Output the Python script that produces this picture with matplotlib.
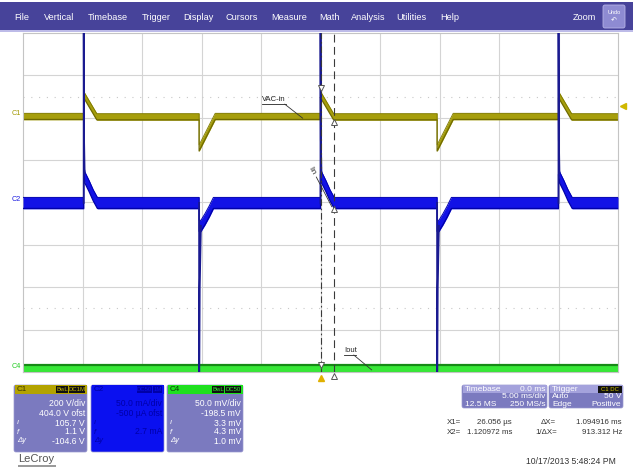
import numpy as np
import matplotlib
matplotlib.use('Agg')
import matplotlib.pyplot as plt
from matplotlib.patches import Rectangle, FancyBboxPatch

plt.rcParams['font.family'] = ['Liberation Sans', 'DejaVu Sans']

W, H = 633, 469
# screen area in pixels (10 x 8 divisions)
x_l, x_r, y_t, y_b = 23, 618, 33, 372

# timebase: 5 ms/div, trigger in the middle
t_span = [-25, 25]

# event times (ms)
t_pos = [-19.9, 0.0, 20.0]     # VAC-in steps up, Iin spikes up
t_neg = [-10.2, 9.8]           # VAC-in steps down, Iin spikes down

# C1 VAC-in: 200 V/div, 404 V offset
c1_scale, c1_ofst = 200.0, 404.0
vac_up_dt = [0.0, 0.0, 1.1]
vac_up_v = [3.0, 105.7, 1.1]
vac_dn_dt = [0.0, 0.0, 1.35]
vac_dn_v = [1.1, -146.0, 3.0]

# C2 Iin: 50 mA/div
c2_scale, c2_ofst = 50.0, -0.5
iin_up_dt = [0.0, 0.0, 0.1, 0.45, 0.8, 1.15]
iin_up_v = [0.0, 40.0, 30.0, 20.0, 9.0, 0.0]
iin_dn_dt = [0.0, 0.0, 0.15, 0.5, 0.85, 1.2]
iin_dn_v = [0.0, -27.0, -27.0, -19.0, -10.0, 0.0]
spk_up_dt = [0.0, 0.0, 0.03, 0.08]
spk_up_v = [0.0, 240.0, 75.0, 35.0]
spk_dn_dt = [0.0, 0.0, 0.05, 0.15]
spk_dn_v = [0.0, -240.0, -100.0, -27.0]

# C4 Iout: 50 mV/div, -198.5 mV offset
c4_scale, c4_ofst = 50.0, -198.5
iout_mv = 4.0

cursor_x1 = 0.026056
cursor_x2 = 1.120972
trig_level = 50.0


def build(up_dt, up_v, dn_dt, dn_v):
    ev = sorted([(t, up_dt, up_v) for t in t_pos] + [(t, dn_dt, dn_v) for t in t_neg])
    ts, vs = [t_span[0]], [ev[0][2][0]]
    for t0, dts, v in ev:
        ts += [t0 + d for d in dts]
        vs += list(v)
    ts.append(t_span[1])
    vs.append(vs[-1])
    return np.array(ts), np.array(vs)


def div(v, scale, ofst):
    return (np.asarray(v) + ofst) / scale


def px(lw):
    return lw * 72 / 100.


fig = plt.figure(figsize=(W / 100, H / 100), dpi=100)
fig.patch.set_facecolor('white')
bg = fig.add_axes([0, 0, 1, 1])
bg.set_xlim(0, W)
bg.set_ylim(H, 0)
bg.axis('off')

# menu bar
bg.add_patch(Rectangle((0, 2), W, 28, color='#47439a', lw=0))
bg.add_patch(Rectangle((0, 30), W, 2.5, color='#bdbbe8', lw=0))
menu = ['File', 'Vertical', 'Timebase', 'Trigger', 'Display', 'Cursors', 'Measure',
        'Math', 'Analysis', 'Utilities', 'Help']
menu_x = [14, 44, 88, 142, 183, 225, 271, 319, 351, 396, 440]
for m, mx in zip(menu, menu_x):
    bg.text(mx, 17, m, color='white', fontsize=6.6, va='center', ha='left')
bg.text(573, 17, 'Zoom', color='white', fontsize=6.6, va='center', ha='left')
bg.add_patch(FancyBboxPatch((603, 5), 22, 23, boxstyle='round,pad=0,rounding_size=2',
                            fc='#8e8bd2', ec='#b5b3e6', lw=0.6))
bg.text(614, 12, 'Undo', color='white', fontsize=4, ha='center', va='center')
bg.text(614, 21, '\u21b6', color='white', fontsize=5, ha='center', va='center')

# waveform screen
ax = fig.add_axes([x_l / W, 1 - y_b / H, (x_r - x_l) / W, (y_b - y_t) / H])
ax.set_xlim(*t_span)
ax.set_ylim(-4, 4)
ax.set_xticks([])
ax.set_yticks([])
for s in ax.spines.values():
    s.set_color('#c4c4c4')
    s.set_linewidth(0.8)
for gx in np.arange(-20, 25, 5):
    ax.axvline(gx, color='#d4d4d4', lw=0.8, zorder=0)
for gy in range(-3, 4):
    ax.axhline(gy, color='#d4d4d4', lw=0.8, zorder=0)
for gy in [2.5, -2.5]:
    ax.axhline(gy, color='#c8c8c8', lw=0.8, ls=(0, (1, 6)), zorder=0)

# C1 as a band
tv, vv = build(vac_up_dt, vac_up_v, vac_dn_dt, vac_dn_v)
yv = div(vv, c1_scale, c1_ofst)
ax.fill_between(tv, yv - 0.085, yv + 0.085, color='#a69e0c', lw=0, zorder=2)
ax.plot(tv, yv - 0.075, color='#6f6a00', lw=0.9, zorder=2)
ax.plot(tv, yv + 0.07, color='#7d7800', lw=0.6, zorder=2)

# C4
y4 = div(iout_mv, c4_scale, c4_ofst)
ax.fill_between(t_span, y4 - 0.12, y4 + 0.08, color='#37e837', lw=0, zorder=2)
ax.axhline(y4 + 0.06, color='#168a16', lw=1.6, zorder=2)
ax.axhline(y4 - 0.11, color='#1e9e1e', lw=0.8, zorder=2)

# C2 as a band plus thin spikes
ti, vi = build(iin_up_dt, iin_up_v, iin_dn_dt, iin_dn_v)
yi = div(vi, c2_scale, c2_ofst)
ax.fill_between(ti, yi - 0.14, yi + 0.14, color='#1212e6', lw=0, zorder=3)
ax.plot(ti, yi - 0.13, color='#0000a8', lw=0.9, zorder=3)
ax.plot(ti, yi + 0.13, color='#0000b0', lw=0.7, zorder=3)
for t0 in t_pos:
    ax.plot(t0 + np.array(spk_up_dt), div(spk_up_v, c2_scale, c2_ofst), color='#1a1a90',
            lw=px(1.8), zorder=4)
for t0 in t_neg:
    ax.plot(t0 + np.array(spk_dn_dt), div(spk_dn_v, c2_scale, c2_ofst), color='#1a1a90',
            lw=px(1.8), zorder=4)

# cursors
ax.axvline(cursor_x1, color='#3a3a3a', lw=0.8, ls=(0, (6, 2.5, 1.5, 2.5)), zorder=5)
ax.axvline(cursor_x2, color='#3a3a3a', lw=0.8, ls=(0, (7, 4)), zorder=5)
ax.plot([cursor_x1, cursor_x1], [div(vac_up_v[1], c1_scale, c1_ofst) + 0.15,
                                 y4 + 0.05],
        ls='none', marker='v', ms=5, mfc='white', mec='#555555', mew=0.7, zorder=6)
ax.plot([cursor_x2, cursor_x2, cursor_x2], [div(vac_up_v[2], c1_scale, c1_ofst) - 0.12,
                                            div(0, c2_scale, c2_ofst) - 0.15, -4.1],
        ls='none', marker='^', ms=5, mfc='white', mec='#555555', mew=0.7, zorder=6,
        clip_on=False)

# labels on traces
ax.text(-4.9, 2.42, 'VAC-in', fontsize=5.5, color='#222222', va='center')
ax.plot([-4.9, -2.9], [2.32, 2.32], color='#222222', lw=0.6)
ax.plot([-3.0, -1.5], [2.32, 1.99], color='#333333', lw=0.6)
ax.text(-0.75, 0.75, 'Iin', fontsize=5.5, color='#222222', va='center', ha='center',
        rotation=-60)
ax.plot([-0.35, 0.95], [0.6, -0.1], color='#333333', lw=0.6, zorder=5)
ax.text(2.0, -3.5, 'Iout', fontsize=5.5, color='#222222', va='center')
ax.plot([2.0, 3.0], [-3.6, -3.6], color='#222222', lw=0.6)
ax.plot([2.8, 4.3], [-3.6, -3.95], color='#333333', lw=0.6)


def y_px(d):
    return (y_t + y_b) / 2 - d * (y_b - y_t) / 8


def x_px(t):
    return x_l + (t - t_span[0]) / (t_span[1] - t_span[0]) * (x_r - x_l)


# channel markers at left, trigger markers
bg.text(21, y_px(div(vac_up_v[0], c1_scale, c1_ofst)) - 3, 'C1', color='#a09800',
        fontsize=5.2, ha='right', va='center')
bg.text(21, y_px(div(0, c2_scale, c2_ofst)) - 3, 'C2', color='#1a1ae0',
        fontsize=5.2, ha='right', va='center')
bg.text(21, y_px(y4) - 1, 'C4', color='#22cc22',
        fontsize=5.2, ha='right', va='center')
bg.plot([623], [y_px(div(trig_level, c1_scale, c1_ofst))], marker='<', ms=5,
        color='#d0b800', ls='none')
bg.plot([x_px(0)], [378], marker='^', ms=4.5, color='#e0b000', ls='none')


def chan_box(x0, x1, head, body, name, tags, tag_fc, tag_tc, name_c, txt_c, lines):
    y0, y1 = 385, 452
    bg.add_patch(FancyBboxPatch((x0, y0), x1 - x0, y1 - y0,
                                boxstyle='round,pad=0,rounding_size=2', fc=body, ec='#9a98d0', lw=0.5))
    bg.add_patch(Rectangle((x0 + 0.5, y0 + 0.5), x1 - x0 - 1, 8.5, fc=head, lw=0))
    bg.text(x0 + 3, y0 + 4.8, name, fontsize=5.8, color=name_c, va='center')
    tx = x1 - 2
    for tg in tags[::-1]:
        w = 3.4 * len(tg) + 2
        bg.add_patch(Rectangle((tx - w, y0 + 1.5), w, 6.5, fc=tag_fc, lw=0))
        bg.text(tx - w / 2, y0 + 4.8, tg, fontsize=4.3, color=tag_tc, ha='center', va='center')
        tx -= w + 1
    rows = [403, 413, 423, 432, 441]
    syms = ['', '', '\u0131', 'f', '\u0394y']
    for r, s, ln in zip(rows, syms, lines):
        bg.text(x1 - 2, r, ln, fontsize=6.2, color=txt_c, ha='right', va='center')
        bg.text(x0 + 3, r, s, fontsize=5.5, color=txt_c, ha='left', va='center',
                style='italic')


chan_box(14, 87, '#b3a300', '#7b7abf', 'C1', ['BwL', 'DC1M'], '#111111', '#c8b800',
         '#3a3500', 'white', ['200 V/div', '404.0 V ofst', '105.7 V', '1.1 V', '-104.6 V'])
chan_box(91, 164, '#0a10f0', '#0a10f0', 'C2', ['DC50', '1M'], '#0000a8', '#0a10f0',
         '#0000a0', '#0000a8', ['50.0 mA/div', '-500 \u00b5A ofst', '', '2.7 mA', ''])
chan_box(167, 243, '#1fe01f', '#7b7abf', 'C4', ['BwL', 'DC50'], '#111111', '#30f030',
         '#0a3a0a', 'white', ['50.0 mV/div', '-198.5 mV', '3.3 mV', '4.3 mV', '1.0 mV'])

# timebase / trigger boxes
for x0, x1 in [(462, 547), (549, 623)]:
    bg.add_patch(FancyBboxPatch((x0, 385), x1 - x0, 23, boxstyle='round,pad=0,rounding_size=2',
                                fc='#7b7abf', ec='#9a98d0', lw=0.5))
    bg.add_patch(Rectangle((x0 + 0.5, 385.5), x1 - x0 - 1, 8, fc='#a4a2dc', lw=0))
bg.text(465, 389.5, 'Timebase', fontsize=6, color='white', va='center')
bg.text(545, 389.5, '0.0 ms', fontsize=6, color='white', va='center', ha='right')
bg.text(545, 397, '5.00 ms/div', fontsize=6, color='white', va='center', ha='right')
bg.text(465, 404.5, '12.5 MS', fontsize=6, color='white', va='center')
bg.text(545, 404.5, '250 MS/s', fontsize=6, color='white', va='center', ha='right')
bg.text(552, 389.5, 'Trigger', fontsize=6, color='white', va='center')
bg.add_patch(Rectangle((598, 386.5), 23.5, 6.5, fc='#111111', lw=0))
bg.text(609.5, 389.7, 'C1 DC', fontsize=4.3, color='#d8c800', va='center', ha='center')
bg.text(552, 397, 'Auto', fontsize=6, color='white', va='center')
bg.text(621, 397, '50 V', fontsize=6, color='white', va='center', ha='right')
bg.text(552, 404.5, 'Edge', fontsize=6, color='white', va='center')
bg.text(621, 404.5, 'Positive', fontsize=6, color='white', va='center', ha='right')

# cursor readouts
rc = '#333333'
fs = 5.7
bg.text(447, 422, 'X1=', fontsize=fs, color=rc, va='center')
bg.text(512, 422, '26.056 \u00b5s', fontsize=fs, color=rc, va='center', ha='right')
bg.text(541, 422, '\u0394X=', fontsize=fs, color=rc, va='center')
bg.text(622, 422, '1.094916 ms', fontsize=fs, color=rc, va='center', ha='right')
bg.text(447, 432, 'X2=', fontsize=fs, color=rc, va='center')
bg.text(512, 432, '1.120972 ms', fontsize=fs, color=rc, va='center', ha='right')
bg.text(535, 432, '1/\u0394X=', fontsize=fs, color=rc, va='center')
bg.text(622, 432, '913.312 Hz', fontsize=fs, color=rc, va='center', ha='right')

bg.text(616, 462, '10/17/2013 5:48:24 PM', fontsize=6.2, color=rc, va='center', ha='right')

# logo
bg.text(18, 459, 'LeCroy', fontsize=8, color='#555555', va='center')
bg.add_patch(Rectangle((18, 465), 38, 2.5, fc='#9a9a9a', lw=0))

fig.savefig('out.png', dpi=100)
